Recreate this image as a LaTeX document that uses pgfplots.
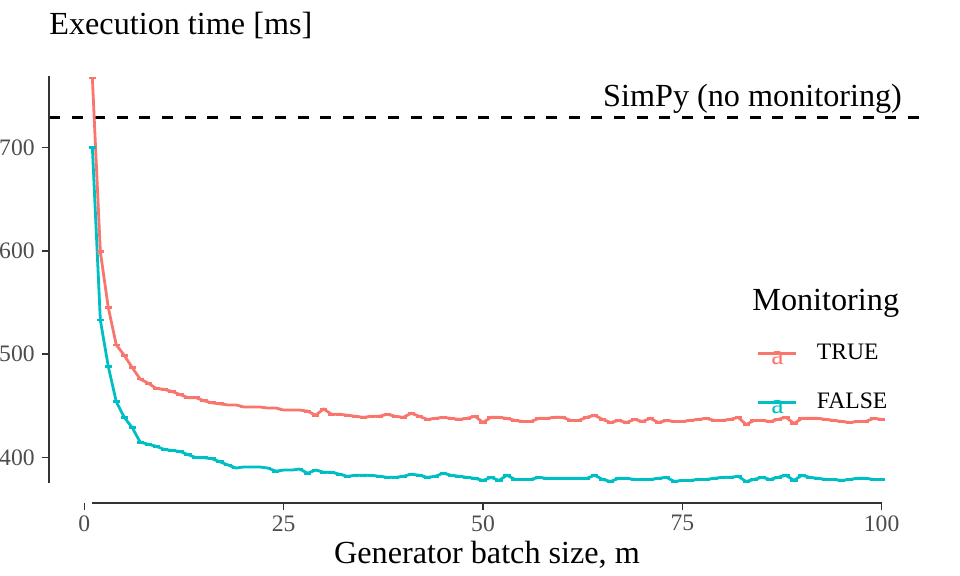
\documentclass[border=0pt]{standalone}
\usepackage{fontspec}
\setmainfont{Liberation Serif}
\usepackage{pgfplots}
\pgfplotsset{compat=1.18}
\definecolor{tcol}{HTML}{F8766D}
\definecolor{fcol}{HTML}{00BFC4}
\definecolor{tickgray}{HTML}{4D4D4D}
\definecolor{axgray}{HTML}{333333}
\newcommand{\bigfont}{\fontsize{16.1}{19}\selectfont}
\newcommand{\smallfont}{\fontsize{11.8}{14}\selectfont}

\pgfplotstableread{
x y
1 767
2 599
3 545
4 509
5 499
6 487
7 476
8 472
9 467
10 466
11 464
12 461
13 458
14 458
15 455
16 453
17 452
18 451
19 451
20 449
21 449
22 449
23 448
24 448
25 446
26 446
27 446
28 445
29 441
30 447
31 442
32 442
33 441
34 440
35 439
36 440
37 440
38 442
39 440
40 439
41 443
42 440
43 437
44 438
45 439
46 438
47 437
48 438
49 440
50 434
51 439
52 439
53 438
54 436
55 435
56 435
57 438
58 438
59 439
60 439
61 436
62 436
63 439
64 441
65 437
66 434
67 436
68 434
69 437
70 435
71 438
72 434
73 436
74 435
75 435
76 436
77 437
78 438
79 436
80 436
81 437
82 439
83 432
84 436
85 436
86 435
87 437
88 439
89 433
90 438
91 438
92 438
93 437
94 436
95 435
96 434
97 435
98 435
99 438
100 437
}\truedata

\pgfplotstableread{
x y
1 700
2 533
3 488
4 454
5 439
6 429
7 415
8 413
9 411
10 408
11 407
12 406
13 403
14 400
15 400
16 399
17 396
18 393
19 390
20 391
21 391
22 391
23 390
24 387
25 388
26 388
27 389
28 385
29 388
30 386
31 386
32 384
33 382
34 383
35 383
36 383
37 382
38 381
39 381
40 382
41 384
42 383
43 381
44 382
45 385
46 383
47 382
48 381
49 380
50 378
51 381
52 378
53 383
54 379
55 379
56 379
57 381
58 380
59 380
60 380
61 380
62 380
63 380
64 383
65 379
66 377
67 380
68 380
69 379
70 379
71 379
72 380
73 381
74 377
75 378
76 378
77 379
78 379
79 380
80 381
81 381
82 382
83 377
84 379
85 381
86 379
87 381
88 383
89 378
90 383
91 381
92 380
93 379
94 379
95 378
96 379
97 380
98 380
99 379
100 379
}\falsedata

\begin{document}
\begin{tikzpicture}
\useasboundingbox (0,0) rectangle (480pt,288pt);
\begin{axis}[
  at={(24.5pt,36.5pt)}, anchor=south west,
  scale only axis, width=438pt, height=223.5pt,
  xmin=-4.44, xmax=105.44, ymin=356.2, ymax=788.3,
  axis x line*=bottom, axis y line*=left,
  axis line style={draw=none},
  clip=false,
  tick align=outside, major tick length=3.5pt,
  tick style={axgray, line width=0.75pt},
  xtick={0,25,50,75,100}, ytick={400,500,600,700},
  minor tick num=0,
  /pgf/number format/assume math mode=true,
  ticklabel style={font=\smallfont, text=tickgray},
  yticklabel style={inner sep=0pt, xshift=-3.5pt},
  xticklabel style={inner sep=0pt, yshift=-2.5pt},
  title={Execution time [ms]},
  title style={at={(axis description cs:0,1)}, anchor=base west, yshift=4.75pt,
    inner sep=0pt, font=\bigfont},
  xlabel={Generator batch size, m},
  xlabel style={at={(axis description cs:0.5,0)}, anchor=base, yshift=-30.5pt,
    inner sep=0pt, font=\bigfont},
  legend cell align=left,
  legend style={at={(rel axis cs:0.8082,0.3557)}, anchor=north west,
    draw=none, fill=none, inner sep=0pt, outer sep=0pt,
    row sep=12.8pt, column sep=9.5pt,
    nodes={inner sep=0pt, font=\smallfont}},
]
% reference line
\addplot[black, line width=1.2pt, dash pattern=on 5.5pt off 5.8pt, forget plot]
  coordinates {(-4.44,729) (105.44,729)};

\addplot[tcol, line width=1.4pt, mark=-, mark size=1.8pt,
  legend image code/.code={
    \draw[tcol, line width=1.5pt] (0pt,0pt) -- (19pt,0pt);
    \node[text=tcol, inner sep=0pt, anchor=base, font=\fontsize{14}{16}\selectfont] at (9.5pt,-5.7pt) {a};}]
  table[x=x, y=y] {\truedata};
\addlegendentry{TRUE}

\addplot[fcol, line width=1.4pt, mark=-, mark size=1.8pt,
  legend image code/.code={
    \draw[fcol, line width=1.5pt] (0pt,0pt) -- (19pt,0pt);
    \node[text=fcol, inner sep=0pt, anchor=base, font=\fontsize{14}{16}\selectfont] at (9.5pt,-5.7pt) {a};}]
  table[x=x, y=y] {\falsedata};
\addlegendentry{FALSE}

% range-frame axis lines
\draw[axgray, line width=0.75pt] (axis cs:1,356.2) -- (axis cs:100,356.2);
\draw[axgray, line width=0.75pt] (axis cs:-4.44,375.8) -- (axis cs:-4.44,768.7);

\node[anchor=base east, yshift=5.25pt, inner sep=0pt, font=\bigfont]
  at (axis cs:102.6,729) {SimPy (no monitoring)};
\node[anchor=base west, inner sep=0pt, font=\bigfont]
  at (rel axis cs:0.8025,0.4306) {Monitoring};
\end{axis}
\end{tikzpicture}
\end{document}
